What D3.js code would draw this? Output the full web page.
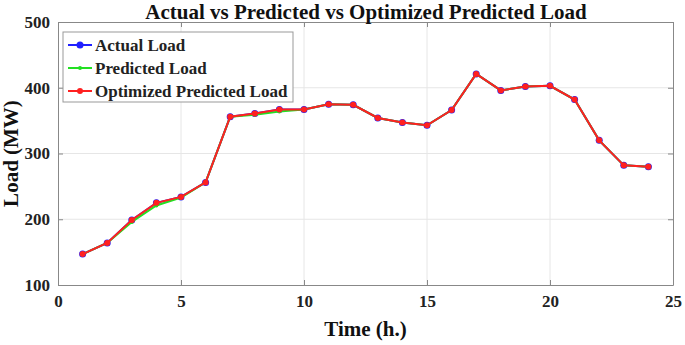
<!DOCTYPE html>
<html>
<head>
<meta charset="utf-8">
<script src="https://cdn.jsdelivr.net/npm/d3@7"></script>
<style>
  body { margin: 0; background: #fff; }
  text { font-family: "Liberation Serif", "Times New Roman", serif; font-weight: bold; }
</style>
</head>
<body>
<svg id="chart"></svg>
<script>
const hours = d3.range(1, 25);
const actualLoad = [147, 164, 199, 225, 234, 256, 356, 361, 367, 367, 375, 374,
                    354, 347, 343, 366, 421, 396, 402, 403, 382, 320, 282, 280];
const predictedLoad = [147, 164, 196, 221, 233, 256, 356, 359, 364, 367, 375, 374,
                       354, 347, 343, 366, 421, 396, 402, 403, 382, 320, 282, 280];
const optimizedLoad = [147, 164, 199, 225, 234, 256, 356, 361, 367, 367, 375, 374,
                       354, 347, 343, 366, 421, 396, 402, 403, 382, 320, 282, 280];
const xTicks = [0, 5, 10, 15, 20, 25];
const yTicks = [100, 200, 300, 400, 500];

const W = 685, H = 345;
const margin = {top: 22, right: 12, bottom: 60, left: 58};

const svg = d3.select('#chart').attr('width', W).attr('height', H);

const x = d3.scaleLinear().domain([0, 25]).range([margin.left, W - margin.right]);
const y = d3.scaleLinear().domain([100, 500]).range([H - margin.bottom, margin.top]);

// grid
svg.append('g').selectAll('line.gx').data(xTicks.slice(1, -1)).enter().append('line')
    .attr('x1', d => x(d)).attr('x2', d => x(d))
    .attr('y1', y(100)).attr('y2', y(500))
    .attr('stroke', '#e6e6e6').attr('stroke-width', 1);
svg.append('g').selectAll('line.gy').data(yTicks.slice(1, -1)).enter().append('line')
    .attr('x1', x(0)).attr('x2', x(25))
    .attr('y1', d => y(d)).attr('y2', d => y(d))
    .attr('stroke', '#e6e6e6').attr('stroke-width', 1);

// axes (ticks inward, matlab style)
svg.append('g').attr('transform', `translate(0,${y(100)})`)
    .call(d3.axisBottom(x).tickValues(xTicks).tickSizeInner(-5).tickSizeOuter(0).tickPadding(10));
svg.append('g').attr('transform', `translate(${x(0)},0)`)
    .call(d3.axisLeft(y).tickValues(yTicks).tickSizeInner(-5).tickSizeOuter(0).tickPadding(8));
svg.append('g').attr('transform', `translate(0,${y(500)})`)
    .call(d3.axisTop(x).tickValues(xTicks).tickSizeInner(-5).tickSizeOuter(0).tickFormat(''));
svg.append('g').attr('transform', `translate(${x(25)},0)`)
    .call(d3.axisRight(y).tickValues(yTicks).tickSizeInner(-5).tickSizeOuter(0).tickFormat(''));

svg.selectAll('.domain').attr('stroke', '#888');
svg.selectAll('.tick line').attr('stroke', '#888');
svg.selectAll('.tick text').attr('fill', '#222').style('font-size', '17px')
    .style('font-family', '"Liberation Serif", serif').style('font-weight', 'bold');

// series
const series = [
  {name: 'Actual Load', values: actualLoad, color: '#2020ff', r: 3.5},
  {name: 'Predicted Load', values: predictedLoad, color: '#22e022', r: 2},
  {name: 'Optimized Predicted Load', values: optimizedLoad, color: '#ff2020', r: 3}
];

const line = d3.line().x((d, i) => x(hours[i])).y(d => y(d));

series.forEach(s => {
  svg.append('path').datum(s.values)
      .attr('d', line)
      .attr('fill', 'none')
      .attr('stroke', s.color)
      .attr('stroke-width', 2);
  svg.append('g').selectAll('circle').data(s.values).enter().append('circle')
      .attr('cx', (d, i) => x(hours[i]))
      .attr('cy', d => y(d))
      .attr('r', s.r)
      .attr('fill', s.color);
});

// legend
const lg = svg.append('g').attr('transform', 'translate(63,32)');
lg.append('rect').attr('width', 230).attr('height', 70)
    .attr('fill', '#fff').attr('stroke', '#999').attr('stroke-width', 1);
series.forEach((s, i) => {
  const yy = 13 + i * 23;
  lg.append('line').attr('x1', 5).attr('x2', 29).attr('y1', yy).attr('y2', yy)
      .attr('stroke', s.color).attr('stroke-width', 2);
  lg.append('circle').attr('cx', 17).attr('cy', yy).attr('r', s.r).attr('fill', s.color);
  lg.append('text').attr('x', 32).attr('y', yy + 6)
      .style('font-size', '17px').attr('fill', '#222').text(s.name);
});

// title & labels
svg.append('text').attr('x', 366).attr('y', 19).attr('text-anchor', 'middle')
    .style('font-size', '21px').attr('fill', '#111')
    .text('Actual vs Predicted vs Optimized Predicted Load');
svg.append('text').attr('x', (x(0) + x(25)) / 2).attr('y', 336).attr('text-anchor', 'middle')
    .style('font-size', '21px').attr('fill', '#111').text('Time (h.)');
svg.append('text').attr('transform', `translate(18,${(y(100) + y(500)) / 2}) rotate(-90)`)
    .attr('text-anchor', 'middle').style('font-size', '21px').attr('fill', '#111')
    .text('Load (MW)');
</script>
</body>
</html>
